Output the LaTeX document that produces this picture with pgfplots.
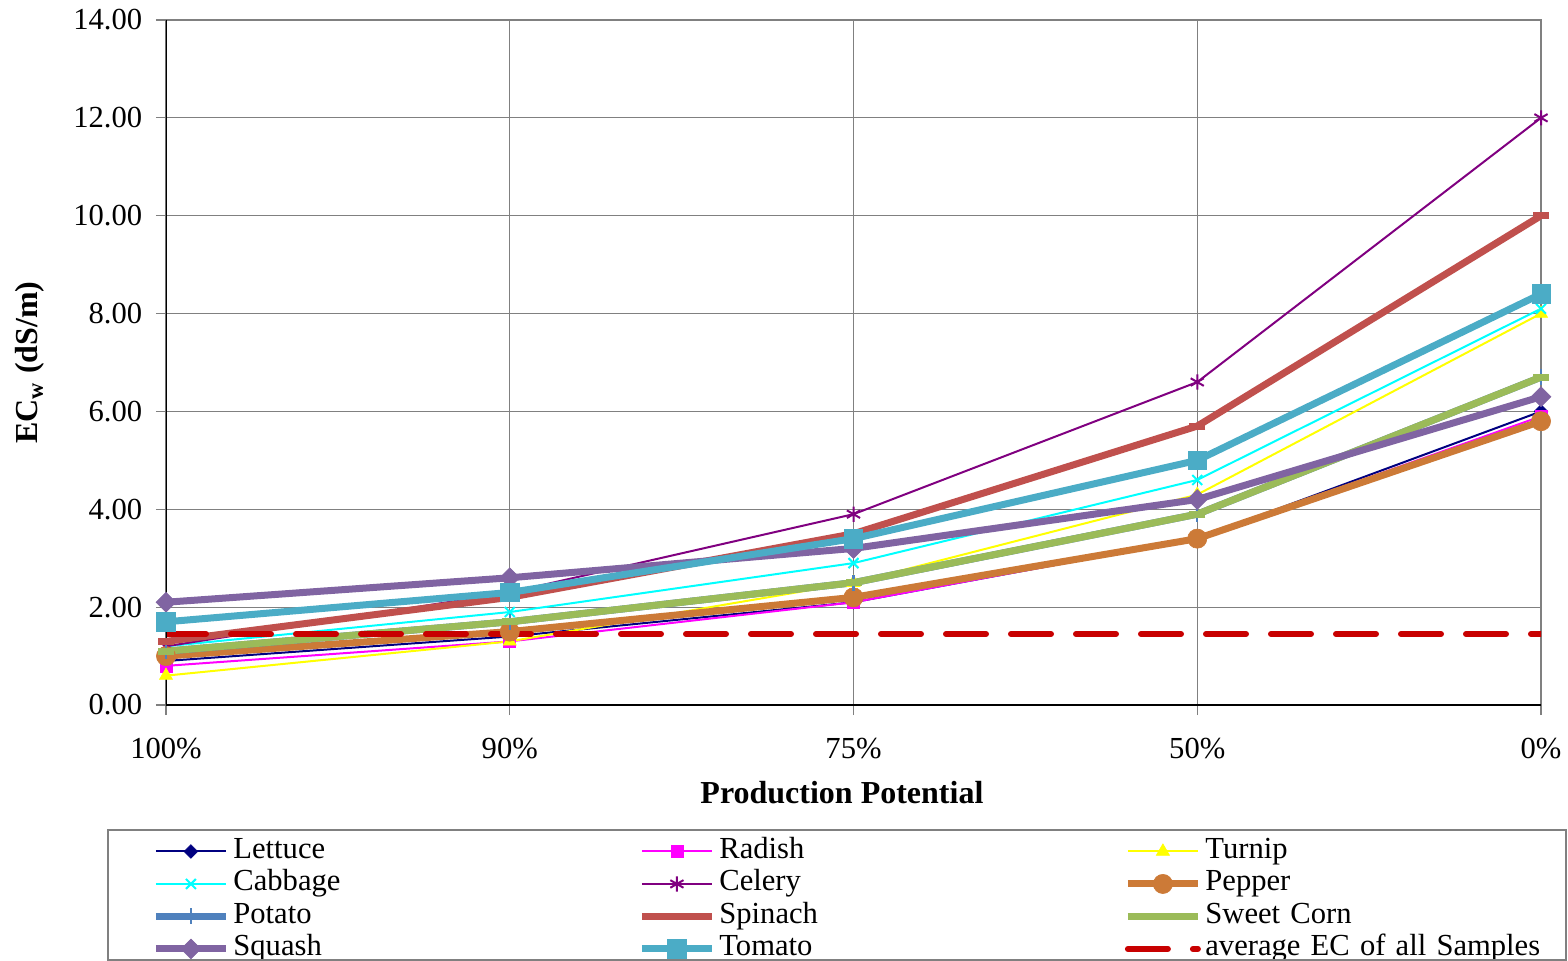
\documentclass[border=0pt]{standalone}
\usepackage{pgfplots}
\pgfplotsset{compat=1.18}
\usepackage{fontspec}
\setmainfont{Liberation Serif}
\definecolor{cLettuce}{RGB}{0,0,128}
\definecolor{cRadish}{RGB}{255,0,255}
\definecolor{cTurnip}{RGB}{255,255,0}
\definecolor{cCabbage}{RGB}{0,255,255}
\definecolor{cCelery}{RGB}{128,0,128}
\definecolor{cPepper}{RGB}{204,122,55}
\definecolor{cPotato}{RGB}{79,129,189}
\definecolor{cSpinach}{RGB}{192,80,77}
\definecolor{cCorn}{RGB}{155,187,89}
\definecolor{cSquash}{RGB}{128,100,162}
\definecolor{cTomato}{RGB}{75,172,198}
\definecolor{cAvg}{RGB}{200,0,0}
\begin{document}
\begin{tikzpicture}
\begin{axis}[
  name=ax,
  scale only axis, width=687.5bp, height=342.5bp,
  xmin=0, xmax=4, ymin=0, ymax=14,
  xtick={0,1,2,3,4}, xticklabels={100\%,90\%,75\%,50\%,0\%},
  ytick={0,2,4,6,8,10,12,14},
  /pgf/number format/fixed, /pgf/number format/fixed zerofill, /pgf/number format/precision=2,
  /pgf/number format/assume math mode=true,
  tick label style={font=\fontsize{15.3bp}{18bp}\selectfont},
  xticklabel style={yshift=-8bp},
  yticklabel style={xshift=-3.4bp},
  tick pos=left, tick align=outside, major tick length=5bp,
  tick style={gray, line width=0.6bp},
  grid=major, major grid style={gray, line width=0.6bp},
  axis line style={gray, line width=1bp},
  xlabel={Production Potential},
  ylabel={EC\textsubscript{w} (dS/m)},
  every axis x label/.style={at={(axis description cs:0.4916,0)}, yshift=-44bp, anchor=center,
    font=\bfseries\fontsize{16bp}{19bp}\selectfont},
  every axis y label/.style={at={(axis description cs:0,0.5)}, xshift=-68bp, anchor=center, rotate=90,
    font=\bfseries\fontsize{16bp}{19bp}\selectfont},
  legend columns=3,
  legend cell align=left,
  legend style={at={(axis description cs:-0.04218,-0.18248)}, anchor=north west,
    draw=none, fill=none, inner xsep=22bp, inner ysep=2.4bp,
    font=\fontsize{15.3bp}{18bp}\selectfont,
    nodes={inner xsep=2bp, inner ysep=0.625bp, text height=11bp, text depth=4bp, text width=200.5bp, align=left}},
  legend image code/.code={\draw[mark repeat=2,mark phase=2,#1] plot coordinates {(0bp,0bp) (17.5bp,0bp) (35bp,0bp)};},
]
\addplot[cLettuce, line width=1bp, mark=square*, mark size=2.4bp, mark options={solid, rotate=45, line width=0.3bp}]
  coordinates {(0,0.9) (1,1.4) (2,2.1) (3,3.4) (4,6.0)};
\addlegendentry{Lettuce}
\addplot[cRadish, line width=1bp, mark=square*, mark size=3bp, mark options={solid, line width=0.3bp}]
  coordinates {(0,0.8) (1,1.3) (2,2.1) (3,3.4) (4,5.9)};
\addlegendentry{Radish}
\addplot[cTurnip, line width=1bp, mark=triangle*, mark size=3.8bp, mark options={solid, line width=0.3bp}]
  coordinates {(0,0.6) (1,1.3) (2,2.5) (3,4.3) (4,8.0)};
\addlegendentry{Turnip}
\addplot[cCabbage, line width=1bp, mark=x, mark size=3.5bp, mark options={solid, line width=1bp}]
  coordinates {(0,1.2) (1,1.9) (2,2.9) (3,4.6) (4,8.1)};
\addlegendentry{Cabbage}
\addplot[cCelery, line width=1bp, mark=asterisk, mark size=3.8bp, mark options={solid, line width=1bp}]
  coordinates {(0,1.2) (1,2.3) (2,3.9) (3,6.6) (4,12.0)};
\addlegendentry{Celery}
\addplot[cPepper, line width=3.5bp, mark=*, mark size=4.8bp, mark options={solid, line width=0.3bp}]
  coordinates {(0,1.0) (1,1.5) (2,2.2) (3,3.4) (4,5.8)};
\addlegendentry{Pepper}
\addplot[cPotato, line width=3.5bp, mark=|, mark size=4bp, mark options={solid, line width=1.2bp}]
  coordinates {(0,1.1) (1,1.7) (2,2.5) (3,3.9) (4,6.7)};
\addlegendentry{Potato}
\addplot[cSpinach, line width=3.5bp, mark=-, mark size=4bp, mark options={solid, line width=3.5bp}]
  coordinates {(0,1.3) (1,2.2) (2,3.5) (3,5.7) (4,10.0)};
\addlegendentry{Spinach}
\addplot[cCorn, line width=3.5bp, mark=-, mark size=4bp, mark options={solid, line width=3.5bp}]
  coordinates {(0,1.1) (1,1.7) (2,2.5) (3,3.9) (4,6.7)};
\addlegendentry{Sweet Corn}
\addplot[cSquash, line width=3.5bp, mark=square*, mark size=3.5bp, mark options={solid, rotate=45, line width=0.3bp}]
  coordinates {(0,2.1) (1,2.6) (2,3.2) (3,4.2) (4,6.3)};
\addlegendentry{Squash}
\addplot[cTomato, line width=3.5bp, mark=square*, mark size=4.6bp, mark options={solid, line width=0.3bp}]
  coordinates {(0,1.7) (1,2.3) (2,3.4) (3,5.0) (4,8.4)};
\addlegendentry{Tomato}
\addplot[cAvg, line width=3bp, line cap=round, dash pattern=on 20bp off 12.5bp, no marks]
  coordinates {(0,1.45) (4,1.45)};
\addlegendentry{average EC of all Samples}
\draw[black, line width=0.8bp] (rel axis cs:0,1) -- (rel axis cs:0,0) -- (rel axis cs:1,0);
\end{axis}
\draw[gray, line width=0.8bp] ([shift={(-29bp,-62.5bp)}]ax.south west) rectangle ([shift={(700bp,-127.5bp)}]ax.south west);
\pgfresetboundingbox
\path[use as bounding box] ([shift={(-83bp,-128bp)}]ax.south west) rectangle ([shift={(701bp,352.5bp)}]ax.south west);
\end{tikzpicture}
\end{document}
